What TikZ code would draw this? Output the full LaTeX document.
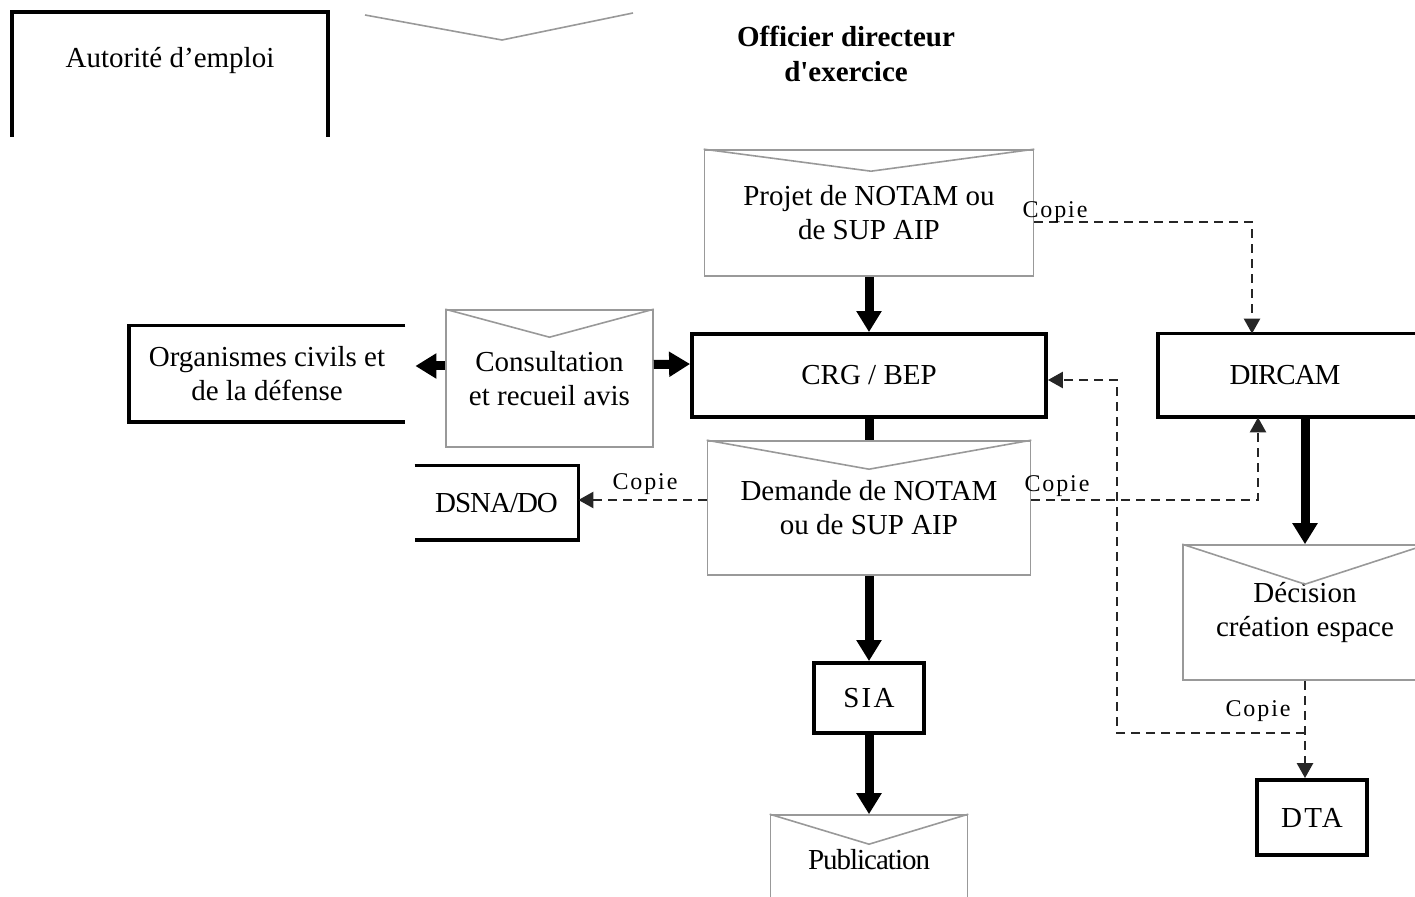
\documentclass[tikz,border=0pt]{standalone}
\usepackage{fontspec}
\setmainfont{Liberation Serif}
\newfontfamily\spacedfont[LetterSpace=8]{Liberation Serif}
\newfontfamily\condfont[LetterSpace=-3.5]{Liberation Serif}
\usetikzlibrary{arrows.meta,calc}
\begin{document}
\begin{tikzpicture}[x=0.5pt,y=-0.5pt]
      \tikzstyle{txt}=[inner sep=0pt,align=center,font=\fontsize{14.5}{17}\selectfont]
      \tikzstyle{frame}=[draw,line width=1.9pt]
      \tikzstyle{box}=[txt,frame]
      \tikzstyle{env}=[txt,draw=gray!80,line width=0.8pt]
      \tikzstyle{envline}=[draw=gray!80,line width=0.8pt]
      \tikzstyle{flow}=[draw,line width=4.5pt,-{Triangle[width=12pt,length=10.5pt]}]
      \tikzstyle{copy}=[draw=black!85,line width=1.3pt,dash pattern=on 4.5pt off 3pt,-{Triangle[width=8pt,length=7.5pt]}]
      \tikzstyle{copylbl}=[inner sep=0pt,font=\fontsize{12}{14}\spacedfont]
      \useasboundingbox (0,0) rectangle (1415,897);
      \clip (0,0) rectangle (1415,897);
      % top row
      \node[txt] (autorite) at (170,61) {Autorité d’emploi};
      \path[frame] (12,137) -- (12,12) -- (328,12) -- (328,137);
      \path[envline] (365,15) -- (502,40) -- (633,13);
      \node[txt,font=\fontsize{14.5}{17.5}\selectfont\bfseries] (officier) at (846,54) {Officier directeur\\d\textquotesingle exercice};
      % main column
      \node[env,minimum width=164.5pt,minimum height=63pt] (projet) at (869,213) {Projet de NOTAM ou\\de SUP AIP};
      \node[box,minimum width=177pt,minimum height=41.5pt] (crg) at (869,375.5) {CRG / BEP};
      \node[env,minimum width=103.5pt,minimum height=68.5pt] (consult) at (549.5,378.5) {Consultation\\et recueil avis};
      \node[txt,minimum width=138pt,minimum height=48pt] (org) at (267,374) {Organismes civils et\\de la défense};
      \path[frame] (org.north east) -- (org.north west) -- (org.south west) -- (org.south east);
      \node[env,minimum width=161.5pt,minimum height=67pt] (demande) at (869,508) {Demande de NOTAM\\ou de SUP AIP};
      \node[txt,minimum width=81.5pt,minimum height=37pt] (dsna) at (496.5,503) {\condfont DSNA/DO};
      \path[frame] (dsna.north west) -- (dsna.north east) -- (dsna.south east) -- (dsna.south west);
      \node[box,minimum width=55pt,minimum height=35pt] (sia) at (869,698) {\spacedfont SIA};
      \node[env,minimum width=98.5pt,minimum height=45pt] (pub) at (869,860) {\condfont Publication};
      % right column
      \node[txt,minimum width=127pt,minimum height=41.5pt] (dircam) at (1285,375.5) {\condfont DIRCAM};
      \path[frame] ([xshift=20pt]dircam.north east) -- (dircam.north west) -- (dircam.south west) -- ([xshift=20pt]dircam.south east);
      \node[env,minimum width=122pt,minimum height=67.5pt] (decision) at (1305,612.5) {Décision\\création espace};
      \node[box,minimum width=55pt,minimum height=37.5pt] (dta) at (1312,817.5) {\spacedfont DTA};
      % envelope flaps
      \path[envline] (projet.north west) -- ($(projet.north)+(2,22)$) -- (projet.north east);
      \path[envline] (consult.north west) -- ($(consult.north)+(0,28)$) -- (consult.north east);
      \path[envline] (demande.north west) -- ($(demande.north)+(0,29)$) -- (demande.north east);
      \path[envline] (decision.north west) -- ($(decision.north)+(0,40)$) -- (decision.north east);
      \path[envline] (pub.north west) -- ($(pub.north)+(0,30)$) -- (pub.north east);
      % main flow
      \path[flow] (projet.south) -- (crg.north);
      \path[flow] ([yshift=6.25pt]consult.west) -- ([xshift=5pt,yshift=4pt]org.east);
      \path[flow] ([yshift=7pt]consult.east) -- ([yshift=5.75pt]crg.west);
      \path[draw,line width=4.5pt] (crg.south) -- (demande.north);
      \path[flow] (demande.south) -- (sia.north);
      \path[flow] (sia.south) -- (pub.north);
      \path[flow] (decision.north |- dircam.south) -- (decision.north);
      % copies
      \coordinate (split) at (1305,733);
      \coordinate (turn) at (1117,733);
      \path[copy] ([yshift=-4.5pt]projet.east) -| ([xshift=-16.5pt]dircam.north);
      \path[copy] ([yshift=4pt]demande.west) -- ([yshift=1.5pt]dsna.east);
      \path[copy] ([yshift=4pt]demande.east) -| ([xshift=-13.5pt]dircam.south);
      \path[copy] (decision.south) -- (decision.south |- dta.north);
      \path[copy] (split) -- (turn) |- ([yshift=-2.25pt]crg.east);
      \node[copylbl] (copie1) at (1055,212) {Copie};
      \node[copylbl] (copie2) at (645,484) {Copie};
      \node[copylbl] (copie3) at (1057,486) {Copie};
      \node[copylbl] (copie4) at (1258,711) {Copie};
    \end{tikzpicture}
\end{document}
